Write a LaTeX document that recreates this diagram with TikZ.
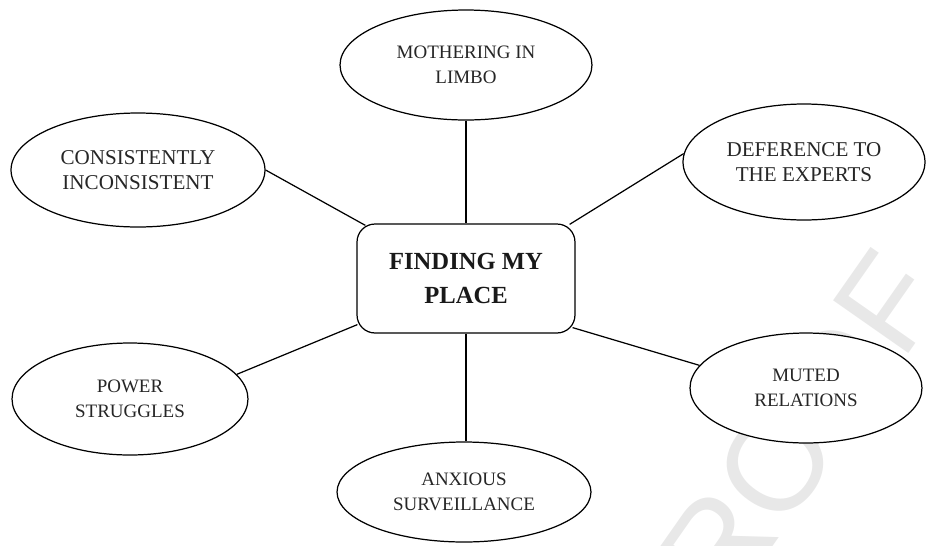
\documentclass[tikz,border=0pt]{standalone}
\usepackage{fontspec}
\setmainfont{Liberation Serif}
\newfontfamily\wmfont{Liberation Sans}
\usetikzlibrary{shapes.geometric,calc}

\begin{document}
\begin{tikzpicture}[x=0.02cm,y=-0.02cm,line width=0.7pt,
  theme/.style={ellipse,draw,fill=white,inner sep=0pt,align=center,text=black!85,
    font=\fontsize{10.8}{14.2}\selectfont},
  bigtheme/.style={theme,font=\fontsize{12}{14.2}\selectfont},
  hubbox/.style={draw,fill=white,rounded corners=0.36cm,minimum width=4.36cm,
    minimum height=2.18cm,align=center,text=black!90,font=\fontsize{14}{18.9}\selectfont\bfseries}]
				\useasboundingbox (0,0) rectangle (927,545);
				\clip (0,0) rectangle (927,545);
				\node[rotate=55,anchor=base,text=black!9,font=\wmfont\fontsize{76}{76}\selectfont] (wm) at (813,490) {PROOF};
				\node[hubbox] (hub) at (466,278.5) {FINDING MY\\PLACE};
				\node[theme,minimum width=5.04cm,minimum height=2.2cm] (limbo) at (466,65) {MOTHERING IN\\LIMBO};
				\node[bigtheme,minimum width=5.08cm,minimum height=2.28cm] (cons) at (138,170) {CONSISTENTLY\\INCONSISTENT};
				\node[bigtheme,minimum width=4.84cm,minimum height=2.32cm] (defer) at (804,162) {DEFERENCE TO\\THE EXPERTS};
				\node[theme,minimum width=4.72cm,minimum height=2.24cm] (power) at (130,399) {POWER\\STRUGGLES};
				\node[theme,minimum width=4.64cm,minimum height=2.2cm] (muted) at (806,388) {MUTED\\RELATIONS};
				\node[theme,minimum width=5.08cm,minimum height=2cm] (anx) at (464,492) {ANXIOUS\\SURVEILLANCE};
				\draw (limbo.south) to (hub.north);
				\draw (hub.south) to (hub.south |- anx.north);
				\draw (cons.east) to ($(hub.north west)+(9,2)$);
				\draw (defer.176) to ($(hub.north east)+(-6,1)$);
				\draw (power.13) to ($(hub.south west)+(1,-9)$);
				\draw (muted.168) to ($(hub.south east)+(-3,-6)$);
			\end{tikzpicture}
\end{document}
